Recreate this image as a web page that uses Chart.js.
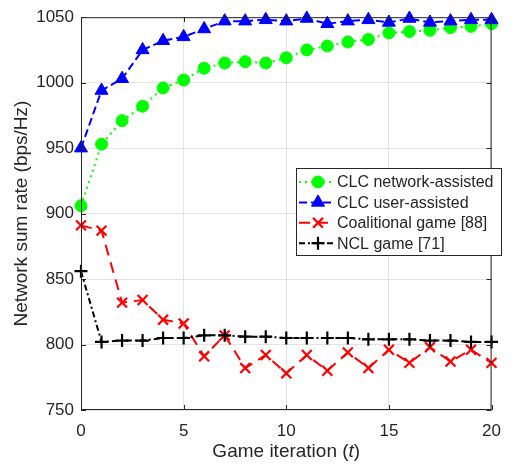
<!DOCTYPE html>
<html>
<head>
<meta charset="utf-8">
<script src="https://cdn.jsdelivr.net/npm/chart.js@4/dist/chart.umd.min.js"></script>
<style>
  html, body { margin: 0; padding: 0; background: #fff; }
  canvas { display: block; }
</style>
</head>
<body>
<canvas id="sumRateChart" width="512" height="468"></canvas>
<script>
const iterations = [0, 1, 2, 3, 4, 5, 6, 7, 8, 9, 10, 11, 12, 13, 14, 15, 16, 17, 18, 19, 20];
const clcNetwork = [906, 953, 971, 982, 996, 1002, 1011, 1015, 1016, 1015, 1019, 1025, 1028, 1031, 1033, 1038, 1039, 1040, 1042, 1043, 1045];
const clcUser = [950, 994, 1003, 1025, 1032, 1035, 1041, 1047, 1047, 1048, 1047, 1049, 1045, 1047, 1048, 1046, 1049, 1046, 1047, 1048, 1048];
const coalitional = [891, 887, 832, 834, 819, 816, 791, 807, 782, 792, 778, 792, 780, 794, 782, 796, 786, 798, 787, 796, 786];
const nclGame = [856, 802, 803, 803, 805, 805, 807, 807, 806, 806, 805, 805, 805, 805, 804, 804, 804, 803, 803, 802, 802];

const xTicks = [0, 5, 10, 15, 20];
const yTicks = [750, 800, 850, 900, 950, 1000, 1050];

const seriesNames = ['CLC network-assisted', 'CLC user-assisted', 'Coalitional game [88]', 'NCL game [71]'];

const FONT = '"Liberation Sans", Arial, Helvetica, sans-serif';
const TEXT = '#262626';

Chart.defaults.font.family = FONT;

function pts(arr) {
  return iterations.map((t, i) => ({ x: t, y: arr[i] }));
}

const styles = [
  { color: '#00ff00', dash: [2, 4], point: 'circle', radius: 6, bw: 1 },
  { color: '#0000ff', dash: [8, 4], point: 'triangle', radius: 7.5, bw: 1 },
  { color: '#ff0000', dash: [11, 7], point: 'crossRot', radius: 7, bw: 2.2 },
  { color: '#000000', dash: [6, 3, 2, 3], point: 'cross', radius: 6.5, bw: 2.2 }
];

const seriesData = [clcNetwork, clcUser, coalitional, nclGame];

const datasets = seriesData.map((arr, i) => ({
  label: seriesNames[i],
  data: pts(arr),
  borderColor: styles[i].color,
  backgroundColor: styles[i].color,
  borderWidth: 2,
  borderDash: styles[i].dash,
  pointStyle: styles[i].point,
  pointRadius: styles[i].radius,
  pointBorderWidth: styles[i].bw,
  pointBackgroundColor: styles[i].color,
  pointBorderColor: styles[i].color,
  tension: 0,
  clip: false,
  order: 4 - i
}));

const framePlugin = {
  id: 'frame',
  afterDraw(chart) {
    const { ctx, chartArea: a, scales } = chart;
    ctx.save();
    // box and inward ticks
    ctx.strokeStyle = TEXT;
    ctx.lineWidth = 1;
    ctx.strokeRect(a.left + 0.5, a.top + 0.5, a.right - a.left - 1, a.bottom - a.top - 1);
    ctx.beginPath();
    xTicks.forEach(v => {
      const x = Math.round(scales.x.getPixelForValue(v)) + 0.5;
      ctx.moveTo(x, a.bottom); ctx.lineTo(x, a.bottom - 5);
      ctx.moveTo(x, a.top); ctx.lineTo(x, a.top + 5);
    });
    yTicks.forEach(v => {
      const y = Math.round(scales.y.getPixelForValue(v)) + 0.5;
      ctx.moveTo(a.left, y); ctx.lineTo(a.left + 5, y);
      ctx.moveTo(a.right, y); ctx.lineTo(a.right - 5, y);
    });
    ctx.stroke();

    // axis titles
    ctx.fillStyle = TEXT;
    ctx.textBaseline = 'middle';
    ctx.font = '19px ' + FONT;
    const p1 = 'Game iteration (';
    const p3 = ')';
    const w1 = ctx.measureText(p1).width;
    const w3 = ctx.measureText(p3).width;
    ctx.font = 'italic 19px ' + FONT;
    const w2 = ctx.measureText('t').width;
    const cx = (a.left + a.right) / 2;
    const x0 = cx - (w1 + w2 + w3) / 2;
    const ty = 452;
    ctx.textAlign = 'left';
    ctx.font = '19px ' + FONT;
    ctx.fillText(p1, x0, ty);
    ctx.font = 'italic 19px ' + FONT;
    ctx.fillText('t', x0 + w1, ty);
    ctx.font = '19px ' + FONT;
    ctx.fillText(p3, x0 + w1 + w2, ty);

    ctx.save();
    ctx.translate(22, (a.top + a.bottom) / 2);
    ctx.rotate(-Math.PI / 2);
    ctx.textAlign = 'center';
    ctx.fillText('Network sum rate (bps/Hz)', 0, 0);
    ctx.restore();

    // legend
    const lx = 296, ly = 168, lw = 206, lh = 88;
    ctx.fillStyle = '#fff';
    ctx.fillRect(lx, ly, lw, lh);
    ctx.strokeStyle = TEXT;
    ctx.lineWidth = 1;
    ctx.strokeRect(lx + 0.5, ly + 0.5, lw - 1, lh - 1);
    ctx.font = '16px ' + FONT;
    ctx.textAlign = 'left';
    seriesNames.forEach((name, i) => {
      const s = styles[i];
      const y = ly + 14 + i * 20.4;
      ctx.strokeStyle = s.color;
      ctx.fillStyle = s.color;
      ctx.lineWidth = 2;
      ctx.setLineDash(s.dash);
      ctx.beginPath();
      ctx.moveTo(lx + 3, y);
      ctx.lineTo(lx + 37, y);
      ctx.stroke();
      ctx.setLineDash([]);
      ctx.lineWidth = s.bw;
      Chart.helpers.drawPoint(ctx, {
        pointStyle: s.point,
        radius: s.radius,
        borderWidth: s.bw,
        rotation: 0
      }, lx + 22, y);
      ctx.fillStyle = TEXT;
      ctx.fillText(name, lx + 41, y + 1);
    });
    ctx.restore();
  }
};

new Chart(document.getElementById('sumRateChart'), {
  type: 'line',
  data: { datasets },
  options: {
    responsive: false,
    animation: false,
    layout: { padding: { left: 0, top: 13, right: 11, bottom: 0 } },
    plugins: {
      legend: { display: false },
      tooltip: { enabled: false }
    },
    scales: {
      x: {
        type: 'linear',
        min: 0,
        max: 20,
        afterBuildTicks: s => { s.ticks = xTicks.map(v => ({ value: v })); },
        afterFit: s => { s.height = 58; },
        ticks: { color: TEXT, font: { size: 17 }, padding: 11, maxRotation: 0, callback: v => String(v) },
        grid: { color: '#e3e3e3', drawTicks: false },
        border: { display: false }
      },
      y: {
        type: 'linear',
        min: 750,
        max: 1050,
        afterBuildTicks: s => { s.ticks = yTicks.map(v => ({ value: v })); },
        afterFit: s => { s.width = 81; },
        ticks: { color: TEXT, font: { size: 17 }, padding: 7, callback: v => String(v) },
        grid: { color: '#e3e3e3', drawTicks: false },
        border: { display: false }
      }
    }
  },
  plugins: [framePlugin]
});
</script>
</body>
</html>
